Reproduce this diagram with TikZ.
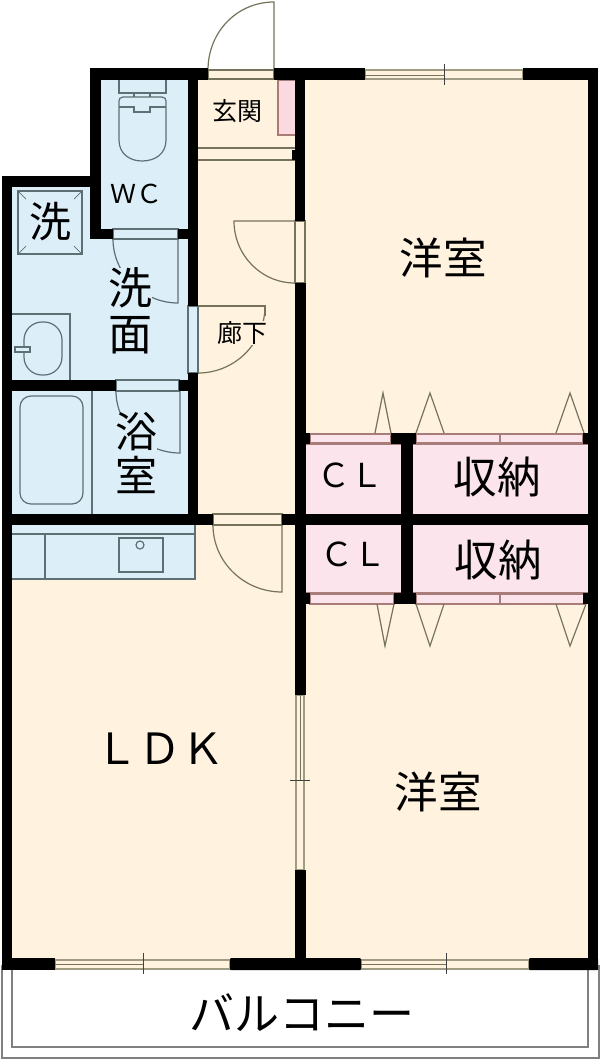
\documentclass[tikz,border=0pt]{standalone}
\usepackage{fontspec}
\newfontfamily\jp{Noto Sans CJK JP}
\definecolor{cream}{HTML}{FFF3DF}
\definecolor{aqua}{HTML}{DCEFF9}
\definecolor{rose}{HTML}{FBE4EC}
\definecolor{rosedk}{HTML}{FAD9E0}
\definecolor{fix}{HTML}{5F7074}
\definecolor{olive}{HTML}{75735C}
\definecolor{rosebd}{HTML}{A87C78}
\definecolor{glassc}{HTML}{A09C84}
\definecolor{balc}{HTML}{808080}
\tikzset{
 wall/.style={fill=black,draw=none},
 floorc/.style={fill=cream,draw=none},
 floorb/.style={fill=aqua,draw=none},
 fixture/.style={draw=fix,line width=1.2pt},
 doorline/.style={draw=olive,line width=1.2pt},
 closetline/.style={draw=rosebd,line width=1.2pt},
 frameb/.style={draw=fix,line width=1.1pt,fill=aqua},
 framec/.style={draw=olive,line width=1.1pt,fill=cream},
 balcline/.style={draw=balc,line width=1.3pt},
 tick/.style={draw=black!75,line width=1pt},
 label/.style={font=\jp,inner sep=0pt,text=black},
}
\begin{document}
\begin{tikzpicture}[x=1pt,y=-1pt]
\useasboundingbox (0,0) rectangle (600,1061);
\fill[white] (0,0) rectangle (600,1061);
% balcony
\draw[balcline] (2,965) -- (2,1058) -- (599,1058) -- (599,965);
\draw[balcline] (12,965) -- (12,1047) -- (588,1047) -- (588,965);
% floors
\fill[floorc] (12,525) rectangle (296,960);
\fill[floorc] (198,80) rectangle (296,525);
\fill[floorc] (305,80) rectangle (588,434);
\fill[floorc] (305,604) rectangle (588,960);
\fill[floorb] (101,80) rectangle (188,239);
\fill[floorb] (12,187) rectangle (188,514);
\fill[floorb] (12,525) rectangle (195,579);
% closets
\fill[rose] (306,444) rectangle (401,514);
\fill[rose] (413,444) rectangle (588,514);
\fill[rose] (306,525) rectangle (401,593);
\fill[rose] (413,525) rectangle (588,593);
\draw[closetline] (306,444) -- (401,444) (413,444) -- (588,444);
\draw[closetline] (306,593) -- (401,593) (413,593) -- (588,593);
\foreach \xa/\xb in {310/391,416/500,500/583}{
  \draw[closetline,fill=rose] (\xa,434) rectangle (\xb,443);
}
\foreach \xa/\xb in {310/394,416/500,500/584}{
  \draw[closetline,fill=rose] (\xa,594) rectangle (\xb,604);
}
% folding doors
\draw[doorline] (375,433) -- (383,393) -- (391,433);
\draw[doorline] (416,433) -- (430,393) -- (444,433);
\draw[doorline] (556,433) -- (570,393) -- (584,433);
\draw[doorline] (377,604) -- (385,646) -- (394,604);
\draw[doorline] (416,604) -- (430,646) -- (444,604);
\draw[doorline] (556,604) -- (570,646) -- (586,604);
% genkan
\draw[closetline,fill=rosedk] (295,80) -- (278,80) -- (278,135) -- (295,135);
\draw[doorline] (198,148) -- (295,148) (198,160) -- (295,160);
% entrance door
\draw[framec] (208,70) rectangle (274,79);
\draw[doorline] (274,70) -- (274,2) .. controls (237,2) and (208,32) .. (208,70);
% door frames
\draw[frameb] (113,229) rectangle (178,239);
\draw[frameb] (116,380) rectangle (179,391);
\draw[frameb] (188,306) rectangle (198,373);
\draw[framec] (213,514) rectangle (282,525);
\draw[framec] (295,221) rectangle (305,283);
% door leaves
\draw[fixture] (178,239) -- (178,303) .. controls (143,303) and (113,274) .. (113,239);
\draw[fixture] (180,391) -- (180,453) .. controls (145,453) and (116,425) .. (116,391);
\draw[doorline] (198,306) -- (265,306) -- (265,316);
\draw[doorline] (265,306) .. controls (265,343) and (235,373) .. (198,373);
\draw[doorline] (295,221) -- (234,221) .. controls (234,255) and (261,283) .. (295,283);
\draw[doorline] (282,525) -- (282,592) .. controls (244,592) and (213,562) .. (213,525);
% toilet
\draw[fixture] (119,80) -- (119,93) -- (166,93) -- (166,80);
\draw[fixture] (134,93) -- (134,97) (150,93) -- (150,97);
\draw[fixture] (123,97) -- (162,97) .. controls (165,97) and (166,99) .. (166,101) -- (166,140) .. controls (166,154) and (155,161) .. (142,161) .. controls (130,161) and (119,154) .. (119,140) -- (119,101) .. controls (119,99) and (120,97) .. (123,97) -- cycle;
\draw[fixture] (119,107) -- (134,107) -- (134,112) -- (150,112) -- (150,107) -- (166,107);
% washing pan
\draw[fixture] (18,191) rectangle (82,254);
\foreach \px/\py/\qx/\qy in {18/191/26/199,82/191/74/199,18/254/26/246,82/254/74/246}{
  \draw[fixture,line width=.7pt] (\px,\py) -- (\qx,\qy);
}
% wash basin
\draw[fixture] (12,314) -- (70,314) -- (70,380);
\draw[fixture,rounded corners=18pt] (24,322) rectangle (62,375);
\draw[fixture,fill=aqua] (15,347) rectangle (30,352);
% bath
\draw[fixture,rounded corners=11pt] (20,396) rectangle (83,504);
\draw[fixture] (92,391) -- (92,514);
% kitchen
\draw[fixture] (12,534) -- (195,534) (195,525) -- (195,579) -- (12,579);
\draw[fixture] (45,534) -- (45,579);
\draw[fixture] (119,538) rectangle (163,572);
\draw[fixture] (140,545) circle (4);
% windows
\draw[framec,draw=glassc,line width=1.8pt] (365,70) rectangle (523,79);
\draw[olive] (365,75) -- (444,75);
\draw[tick] (444,64) -- (444,85);
\draw[framec,draw=glassc,line width=1.8pt] (55,960) rectangle (230,969);
\draw[olive] (55,964) -- (143,964);
\draw[tick] (143,953) -- (143,974);
\draw[framec,draw=glassc,line width=1.8pt] (361,960) rectangle (529,969);
\draw[olive] (361,964) -- (446,964);
\draw[tick] (446,953) -- (446,974);
\draw[framec,draw=glassc,line width=1.8pt] (296,695) rectangle (304,870);
\draw[olive] (300,695) -- (300,780);
\draw[tick] (290,780) -- (310,780);
% walls
\fill[wall] (90,68) rectangle (208,80);
\fill[wall] (274,68) rectangle (365,80);
\fill[wall] (523,68) rectangle (598,80);
\fill[wall] (90,68) rectangle (101,239);
\fill[wall] (90,229) rectangle (113,239);
\fill[wall] (178,229) rectangle (198,239);
\fill[wall] (188,68) rectangle (198,306);
\fill[wall] (188,373) rectangle (198,525);
\fill[wall] (179,380) rectangle (198,391);
\fill[wall] (2,176) rectangle (101,187);
\fill[wall] (2,176) rectangle (12,970);
\fill[wall] (12,380) rectangle (116,391);
\fill[wall] (2,514) rectangle (213,525);
\fill[wall] (282,514) rectangle (306,525);
\fill[wall] (295,68) rectangle (305,221);
\fill[wall] (292,150) rectangle (295,160);
\fill[wall] (295,283) rectangle (306,695);
\fill[wall] (295,870) rectangle (306,970);
\fill[wall] (305,514) rectangle (598,525);
\fill[wall] (588,68) rectangle (598,970);
\fill[wall] (401,434) rectangle (413,604);
\fill[wall] (391,433) rectangle (416,444);
\fill[wall] (394,593) rectangle (416,604);
\fill[wall] (305,433) rectangle (310,444);
\fill[wall] (583,433) rectangle (588,444);
\fill[wall] (305,593) rectangle (310,604);
\fill[wall] (583,593) rectangle (588,604);
\fill[wall] (2,958) rectangle (55,970);
\fill[wall,rounded corners=1pt] (230,958) rectangle (361,970);
\fill[wall,rounded corners=1pt] (529,958) rectangle (598,970);
% labels
\node[label,font=\jp\fontsize{43.5}{44}\selectfont] (yo1) at (443,258) {洋室};
\node[label,font=\jp\fontsize{43.5}{44}\selectfont] (yo2) at (438,792) {洋室};
\node[label,font=\jp\fontsize{43}{43}\selectfont] (ldk) at (160,749) {ＬＤＫ};
\node[label,font=\jp\fontsize{43.5}{44}\selectfont] (sn1) at (497,477) {収納};
\node[label,font=\jp\fontsize{43.5}{44}\selectfont] (sn2) at (498,560) {収納};
\node[label,font=\jp\fontsize{33}{33}\selectfont] (cl1) at (350,475) {ＣＬ};
\node[label,font=\jp\fontsize{33}{33}\selectfont] (cl2) at (353,554) {ＣＬ};
\node[label,font=\jp\fontsize{26}{26}\selectfont] (wc) at (136,194) {ＷＣ};
\node[label,font=\jp\fontsize{44}{44}\selectfont,fill=aqua] (sen) at (130,288) {洗};
\node[label,font=\jp\fontsize{44}{44}\selectfont] (men) at (130,335) {面};
\node[label,font=\jp\fontsize{42}{42}\selectfont,fill=aqua] (yoku) at (136,432) {浴};
\node[label,font=\jp\fontsize{42}{42}\selectfont] (shitsu) at (136,475) {室};
\node[label,font=\jp\fontsize{42}{42}\selectfont] (sentaku) at (50,222) {洗};
\node[label,font=\jp\fontsize{25}{25}\selectfont] (genkan) at (237,111) {玄関};
\node[label,font=\jp\fontsize{25}{25}\selectfont,fill=cream] (roka) at (242,333) {廊下};
\node[label,font=\jp\fontsize{45}{45}\selectfont] (balcony) at (302,1013) {バルコニー};
\end{tikzpicture}
\end{document}
